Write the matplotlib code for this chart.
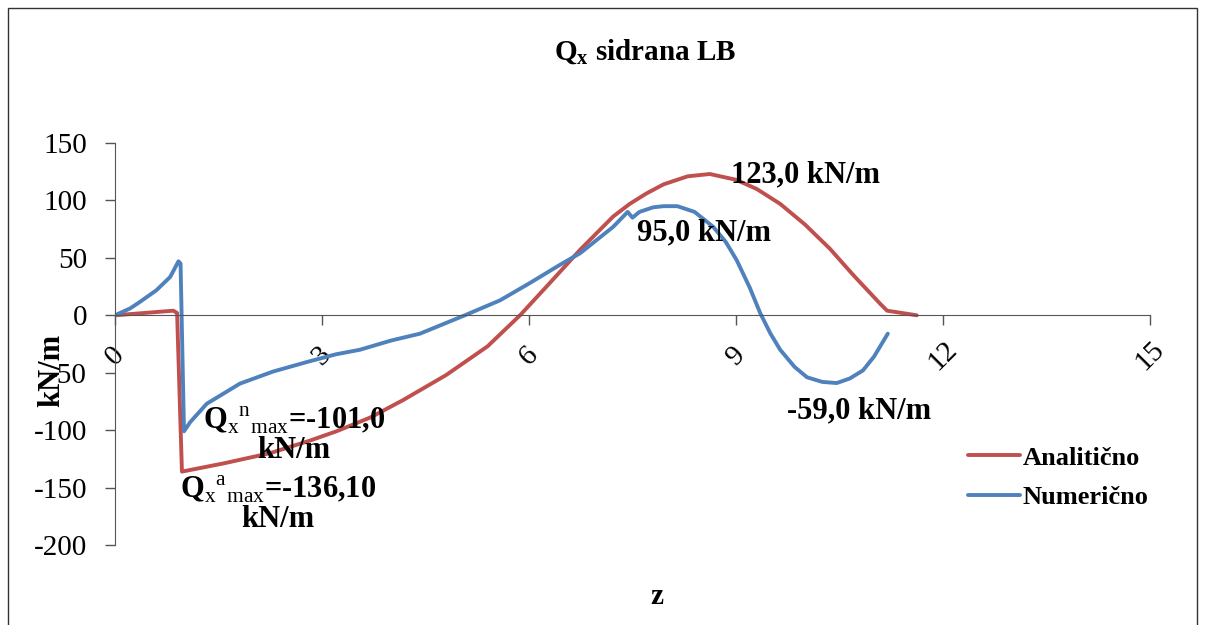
import matplotlib
matplotlib.use("Agg")
import matplotlib.pyplot as plt
from matplotlib.patches import Rectangle

plt.rcParams["font.family"] = ["Liberation Serif", "DejaVu Serif"]
plt.rcParams["mathtext.fontset"] = "custom"
plt.rcParams["mathtext.rm"] = "Liberation Serif"
plt.rcParams["mathtext.bf"] = "Liberation Serif:bold"

# Analytical shear force along the anchored wall
z_anal = [0.0, 0.845, 0.9, 0.97, 1.57, 2.25, 2.83, 3.21, 3.7, 4.17, 4.8,
          5.4, 5.87, 6.3, 6.74, 7.22, 7.46, 7.7, 7.95, 8.3, 8.62, 9.0, 9.3,
          9.64, 10.0, 10.36, 10.7, 11.09, 11.19, 11.62]
q_anal = [0.0, 4.0, 2.0, -136.1, -129.0, -120.0, -109.0, -101.0, -89.0,
          -74.0, -52.0, -27.0, 0.0, 28.0, 57.0, 86.0, 97.0, 106.0, 114.0,
          121.0, 123.0, 118.0, 110.0, 97.0, 79.0, 58.0, 35.0, 10.0, 4.0, 0.0]

# Numerical (FEM) shear force
z_num = [0.0, 0.22, 0.36, 0.6, 0.8, 0.92, 0.95, 1.0, 1.09, 1.33, 1.81, 2.29,
         2.78, 3.2, 3.55, 4.0, 4.42, 5.07, 5.58, 6.01, 6.45, 6.74, 7.22,
         7.43, 7.5, 7.6, 7.8, 7.95, 8.15, 8.4, 8.67, 8.85, 9.01, 9.2, 9.35,
         9.5, 9.64, 9.85, 10.03, 10.25, 10.46, 10.65, 10.84, 11.0, 11.2]
q_num = [0.0, 6.0, 11.6, 21.8, 33.4, 47.0, 45.0, -101.0, -93.0, -77.0,
         -59.5, -49.0, -40.7, -34.0, -30.0, -22.0, -16.0, 0.0, 13.0, 28.0,
         44.0, 54.0, 77.0, 90.0, 85.0, 90.0, 94.0, 95.0, 95.0, 90.0, 77.0,
         64.0, 48.0, 24.0, 2.0, -16.0, -30.0, -45.0, -54.0, -58.0, -59.0,
         -55.0, -48.0, -36.0, -16.0]

x_ticks = [0, 3, 6, 9, 12, 15]
y_ticks = [-200, -150, -100, -50, 0, 50, 100, 150]

RED = "#C0504D"
BLUE = "#4F81BD"
AXIS = "#555555"

W, H = 1205, 625
fig = plt.figure(figsize=(W / 100, H / 100), dpi=100)
ax = fig.add_axes([115 / W, 1 - 545 / H, (1150 - 115) / W, (545 - 143) / H])

ax.plot(z_anal, q_anal, color=RED, lw=2.8, label="Analitično",
        solid_joinstyle="round", solid_capstyle="round")
ax.plot(z_num, q_num, color=BLUE, lw=2.8, label="Numerično",
        solid_joinstyle="round", solid_capstyle="round")

# the x axis runs through zero; position it before configuring the ticks
for side in ("top", "right"):
    ax.spines[side].set_visible(False)
ax.spines["bottom"].set_position(("data", 0))
ax.spines["bottom"].set_color(AXIS)
ax.spines["left"].set_color(AXIS)

ax.set_xlim(0, 15)
ax.set_ylim(-200, 150)
ax.set_xticks(x_ticks)
ax.set_yticks(y_ticks)
ax.set_yticklabels([str(v) for v in y_ticks], fontsize=21)
ax.set_xticklabels([str(v) for v in x_ticks], fontsize=21, rotation=45,
                   ha="center", va="center")
ax.tick_params(axis="x", direction="out", length=7, width=1, pad=22,
               color=AXIS)
ax.tick_params(axis="y", direction="out", length=7, width=1, pad=13,
               color=AXIS)

fs = 22
ax.text(8.93, 122, "123,0 kN/m", fontsize=fs, fontweight="bold",
        ha="left", va="center")
ax.text(7.57, 72, "95,0 kN/m", fontsize=fs, fontweight="bold",
        ha="left", va="center")
ax.text(9.74, -83, "-59,0 kN/m", fontsize=fs, fontweight="bold",
        ha="left", va="center")
ax.text(2.59, -104,
        "Q${}_{\\mathrm{x}}{}^{\\mathrm{n}}{}_{\\mathrm{max}}$=-101,0\nkN/m",
        fontsize=fs, fontweight="bold", ha="center", va="center",
        linespacing=1.0)
ax.text(2.36, -164,
        "Q${}_{\\mathrm{x}}{}^{\\mathrm{a}}{}_{\\mathrm{max}}$=-136,10\nkN/m",
        fontsize=fs, fontweight="bold", ha="center", va="center",
        linespacing=1.0)

fig.text(645 / W, 1 - 52 / H, "Q${}_{\\mathbf{x}}$ sidrana LB",
         fontsize=21, fontweight="bold", ha="center", va="center")
fig.text(657 / W, 1 - 597 / H, "z", fontsize=21, fontweight="bold",
         ha="center", va="center")
fig.text(52 / W, 1 - 370 / H, "kN/m", fontsize=22, fontweight="bold",
         ha="center", va="center", rotation=90)

fig.legend(loc="center left", bbox_to_anchor=(944 / W, 1 - 477.5 / H),
           frameon=False, prop={"size": 19, "weight": "bold"},
           handlelength=1.97, handletextpad=0.12, labelspacing=0.6,
           borderpad=0.4)

fig.patches.append(Rectangle((8 / W, -0.01), (1197 - 8) / W, 1 - 8 / H + 0.01,
                             transform=fig.transFigure, fill=False,
                             edgecolor="#333333", lw=1.0))

fig.savefig("out.png", dpi=100)
